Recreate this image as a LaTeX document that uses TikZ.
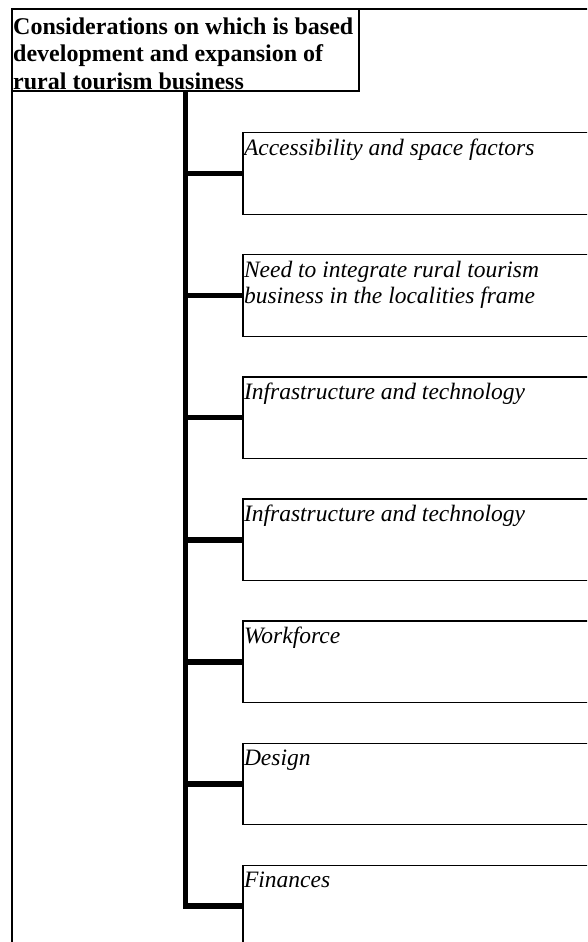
\documentclass[tikz,border=0pt]{standalone}
\usepackage{fontspec}
\setmainfont{Liberation Serif}
\tikzset{
  itembox/.style={draw, line width=1.3pt, anchor=north west, outer sep=0pt,
    inner xsep=1pt, inner ysep=0pt, minimum width=360pt, minimum height=81.5pt},
  titlebox/.style={draw, line width=2pt, anchor=north west, outer sep=0pt,
    inner xsep=1.2pt, inner ysep=0pt, minimum width=347pt, minimum height=81.5pt},
  link/.style={line width=5.6pt, line join=miter},
  frame/.style={line width=2pt}
}
\newcommand\itemtext[1]{\parbox[t][81.5pt][t]{358pt}{\fontsize{23.5pt}{26pt}\selectfont\itshape\raggedright\rule{0pt}{22.3pt}#1}}
\newcommand\titletext[1]{\parbox[t][81.5pt][t]{344.6pt}{\fontsize{24pt}{27.5pt}\selectfont\bfseries\raggedright\rule{0pt}{24.8pt}#1}}
\begin{document}
\begin{tikzpicture}[x=1pt,y=1pt]
\useasboundingbox (0,0) rectangle (587,-942);
\clip (0,0) rectangle (587,-942);
\fill[white] (0,0) rectangle (587,-942);
\coordinate (fbl) at (12,-950);
\coordinate (ftl) at (12,-9.5);
\coordinate (ftr) at (600,-9.5);
\draw[frame] (fbl) -- (ftl) -- (ftr);
\node[titlebox] (t) at (12,-9.5) {\titletext{Considerations on which is based\\development and expansion of\\rural tourism business}};
\node[itembox] (b1) at (243,-132.7) {\itemtext{Accessibility and space factors}};
\node[itembox] (b2) at (243,-254.8) {\itemtext{Need to integrate rural tourism\\business in the localities frame}};
\node[itembox] (b3) at (243,-376.9) {\itemtext{Infrastructure and technology}};
\node[itembox] (b4) at (243,-499.0) {\itemtext{Infrastructure and technology}};
\node[itembox] (b5) at (243,-621.1) {\itemtext{Workforce}};
\node[itembox] (b6) at (243,-743.2) {\itemtext{Design}};
\node[itembox] (b7) at (243,-865.3) {\itemtext{Finances}};
\draw[link] (t.south) -- (t.south |- b7.west) -- (b7.west);
\foreach \i in {1,...,6}{
  \draw[link] (t.south |- b\i.west) -- (b\i.west);
}
\end{tikzpicture}
\end{document}
